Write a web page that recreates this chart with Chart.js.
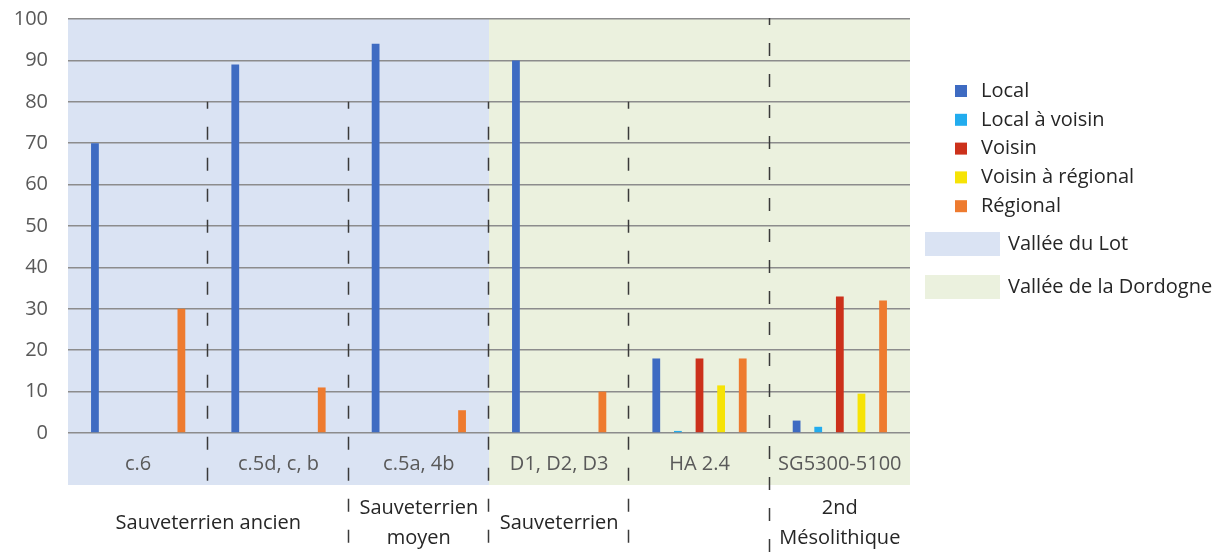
<!DOCTYPE html>
<html>
<head>
<meta charset="utf-8">
<script src="https://cdn.jsdelivr.net/npm/chart.js@4/dist/chart.umd.min.js"></script>
<style>
  html, body { margin: 0; padding: 0; background: #fff; }
  #wrap { width: 1229px; height: 554px; position: relative; }
</style>
</head>
<body>
<div id="wrap"><canvas id="provChart"></canvas></div>
<script>
// niveaux / ensembles
var categories = ['c.6', 'c.5d, c, b', 'c.5a, 4b', 'D1, D2, D3', 'HA 2.4', 'SG5300-5100'];

// pourcentages par type de provenance
var local          = [70, 89, 94, 90, 18, 3];
var localVoisin    = [0, 0, 0, 0, 0.5, 1.5];
var voisin         = [0, 0, 0, 0, 18, 33];
var voisinRegional = [0, 0, 0, 0, 11.5, 9.5];
var regional       = [30, 11, 5.5, 10, 18, 32];

var yTicks = [0, 10, 20, 30, 40, 50, 60, 70, 80, 90, 100];

// périodes (sous les niveaux)
var periodLabels = [['Sauveterrien ancien'], ['Sauveterrien', 'moyen'], ['Sauveterrien'], [], ['2nd', 'Mésolithique']];
var periodFrom   = [0, 2, 3, 4, 5];
var periodTo     = [1, 2, 3, 4, 5];

// vallées
var valleyLabels = ['Vallée du Lot', 'Vallée de la Dordogne'];
var valleyFrom   = [0, 3];
var valleyTo     = [2, 5];

var FONT = "'Open Sans', sans-serif";
var valleyColors = ['#dae3f3', '#ebf1de'];

function catEdges(x, i) {
  var w = (x.right - x.left) / categories.length;
  var c = x.getPixelForValue(i);
  return [c - w / 2, c + w / 2];
}

var decor = {
  id: 'decor',
  beforeDraw: function (chart) {
    var ctx = chart.ctx, x = chart.scales.x, a = chart.chartArea;
    ctx.save();
    for (var v = 0; v < valleyLabels.length; v++) {
      var l = catEdges(x, valleyFrom[v])[0];
      var r = catEdges(x, valleyTo[v])[1];
      ctx.fillStyle = valleyColors[v];
      ctx.fillRect(l, a.top, r - l, a.bottom + 52 - a.top);
    }
    ctx.restore();
  },
  afterDraw: function (chart) {
    var ctx = chart.ctx, x = chart.scales.x, y = chart.scales.y, a = chart.chartArea;
    ctx.save();

    // séparateurs en tirets
    ctx.strokeStyle = '#3a3a3a';
    ctx.lineWidth = 1.5;
    ctx.setLineDash([13, 18]);
    for (var i = 0; i < categories.length - 1; i++) {
      var bx = Math.round(catEdges(x, i)[1]) - 0.5;
      var top = (i === categories.length - 2) ? a.top - 1 : y.getPixelForValue(80);
      var bottom = (i === 0) ? a.bottom + 52 : chart.height;
      ctx.lineDashOffset = 6;
      ctx.beginPath();
      ctx.moveTo(bx, top);
      ctx.lineTo(bx, bottom);
      ctx.stroke();
    }
    ctx.setLineDash([]);

    // périodes
    ctx.fillStyle = '#262626';
    ctx.font = '20px ' + FONT;
    ctx.textAlign = 'center';
    ctx.textBaseline = 'middle';
    for (var p = 0; p < periodLabels.length; p++) {
      var cx = (catEdges(x, periodFrom[p])[0] + catEdges(x, periodTo[p])[1]) / 2;
      var lines = periodLabels[p];
      if (lines.length === 1) {
        ctx.fillText(lines[0], cx, 523);
      } else if (lines.length === 2) {
        ctx.fillText(lines[0], cx, 508);
        ctx.fillText(lines[1], cx, 538);
      }
    }

    // légende
    ctx.textAlign = 'left';
    var ds = chart.data.datasets;
    for (var k = 0; k < ds.length; k++) {
      var ly = 91 + k * 28.8;
      ctx.fillStyle = ds[k].backgroundColor;
      ctx.fillRect(955, ly - 6, 12, 12);
      ctx.fillStyle = '#262626';
      ctx.fillText(ds[k].label, 981, ly);
    }
    for (var m = 0; m < valleyLabels.length; m++) {
      var vy = 244 + m * 43;
      ctx.fillStyle = valleyColors[m];
      ctx.fillRect(925, vy - 12, 75, 24);
      ctx.fillStyle = '#262626';
      ctx.fillText(valleyLabels[m], 1008, vy);
    }
    ctx.restore();
  }
};

new Chart(document.getElementById('provChart'), {
  type: 'bar',
  data: {
    labels: categories,
    datasets: [
      { label: 'Local', data: local, backgroundColor: '#3e6bc2' },
      { label: 'Local à voisin', data: localVoisin, backgroundColor: '#22acee' },
      { label: 'Voisin', data: voisin, backgroundColor: '#cc311b' },
      { label: 'Voisin à régional', data: voisinRegional, backgroundColor: '#f6e306' },
      { label: 'Régional', data: regional, backgroundColor: '#ee7b2f' }
    ]
  },
  options: {
    responsive: true,
    maintainAspectRatio: false,
    animation: false,
    categoryPercentage: 0.77,
    barPercentage: 0.36,
    layout: { padding: { top: 19, right: 319, left: 0, bottom: 0 } },
    plugins: {
      legend: { display: false },
      tooltip: { enabled: false }
    },
    scales: {
      x: {
        grid: { display: false, drawTicks: false },
        border: { display: false },
        ticks: { color: '#595959', font: { family: FONT, size: 20 }, padding: 19, maxRotation: 0, autoSkip: false },
        afterFit: function (s) { s.height = 121; s.paddingLeft = 0; s.paddingRight = 0; }
      },
      y: {
        min: 0,
        max: 100,
        afterBuildTicks: function (s) { s.ticks = yTicks.map(function (v) { return { value: v }; }); },
        grid: { color: '#8c8c8c', lineWidth: 1.5, drawTicks: false },
        border: { display: false },
        ticks: { color: '#595959', font: { family: FONT, size: 20 }, padding: 20 },
        afterFit: function (s) { s.width = 68; s.paddingTop = 0; s.paddingBottom = 0; }
      }
    }
  },
  plugins: [decor]
});
</script>
</body>
</html>
